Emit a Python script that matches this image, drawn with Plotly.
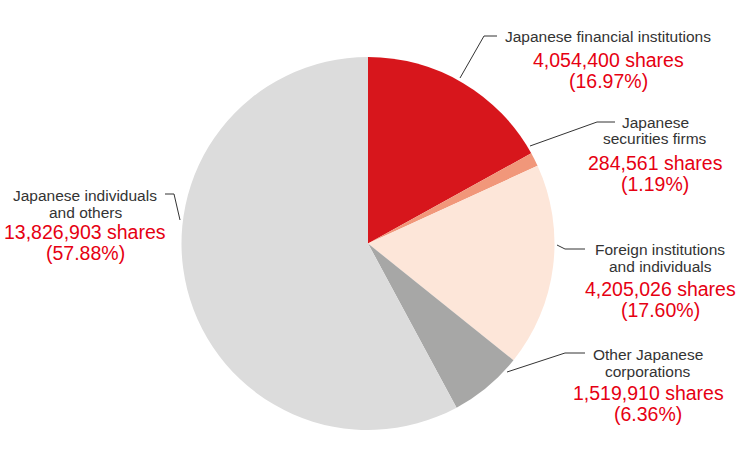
import plotly.graph_objects as go

W, H = 739, 460

# data
categories = [
    "Japanese financial institutions",
    "Japanese securities firms",
    "Foreign institutions and individuals",
    "Other Japanese corporations",
    "Japanese individuals and others",
]
shares = [4054400, 284561, 4205026, 1519910, 13826903]
percents = ["16.97%", "1.19%", "17.60%", "6.36%", "57.88%"]
name_lines = [
    ["Japanese financial institutions"],
    ["Japanese", "securities firms"],
    ["Foreign institutions", "and individuals"],
    ["Other Japanese", "corporations"],
    ["Japanese individuals", "and others"],
]
colors = ["#d7161c", "#f1977a", "#fde6d9", "#a7a7a6", "#dcdcdc"]

# label layout (pixel positions: centre x, first name line y, first value line y)
label_pos = [
    (608, 37, 60),
    (655, 122, 163),
    (660, 249, 289),
    (648, 354, 393),
    (85, 195, 232),
]
leaders = [
    [(460, 78), (484, 36), (497, 36)],
    [(530, 146), (597, 122), (615, 122)],
    [(557, 245), (565, 249), (585, 249)],
    [(507, 372), (565, 353), (585, 353)],
    [(180, 220), (174, 194), (165, 194)],
]

cx, cy, r = 368, 243.5, 186.5

fig = go.Figure(go.Pie(
    labels=categories,
    values=shares,
    sort=False,
    direction="clockwise",
    rotation=0,
    marker=dict(colors=colors, line=dict(width=0)),
    textinfo="none",
    hoverinfo="label+value+percent",
    domain=dict(x=[(cx - r) / W, (cx + r) / W], y=[(H - cy - r) / H, (H - cy + r) / H]),
    showlegend=False,
))


def px(x, y):
    return x / W, 1 - y / H


annotations = []
for i in range(len(categories)):
    x, y_name, y_val = label_pos[i]
    for j, line in enumerate(name_lines[i]):
        ax, ay = px(x, y_name + j * 17)
        annotations.append(dict(
            x=ax, y=ay, xref="paper", yref="paper", text=line, showarrow=False,
            xanchor="center", yanchor="middle",
            font=dict(size=15.5, color="#333333", family="Liberation Sans, Arial"),
        ))
    val_lines = ["{:,} shares".format(shares[i]), "({})".format(percents[i])]
    for j, line in enumerate(val_lines):
        ax, ay = px(x, y_val + j * 21)
        annotations.append(dict(
            x=ax, y=ay, xref="paper", yref="paper", text=line, showarrow=False,
            xanchor="center", yanchor="middle",
            font=dict(size=19.5, color="#e60012", family="Liberation Sans, Arial"),
        ))

shapes = []
for pts in leaders:
    path = "M " + " L ".join("{},{}".format(*px(x, y)) for x, y in pts)
    shapes.append(dict(type="path", xref="paper", yref="paper", path=path,
                       line=dict(color="#333333", width=1)))

fig.update_layout(
    width=W, height=H,
    margin=dict(l=0, r=0, t=0, b=0),
    paper_bgcolor="white",
    plot_bgcolor="white",
    annotations=annotations,
    shapes=shapes,
)

fig.write_html("out.html", config={"displayModeBar": False},
               post_script="document.body.style.margin = '0';")
